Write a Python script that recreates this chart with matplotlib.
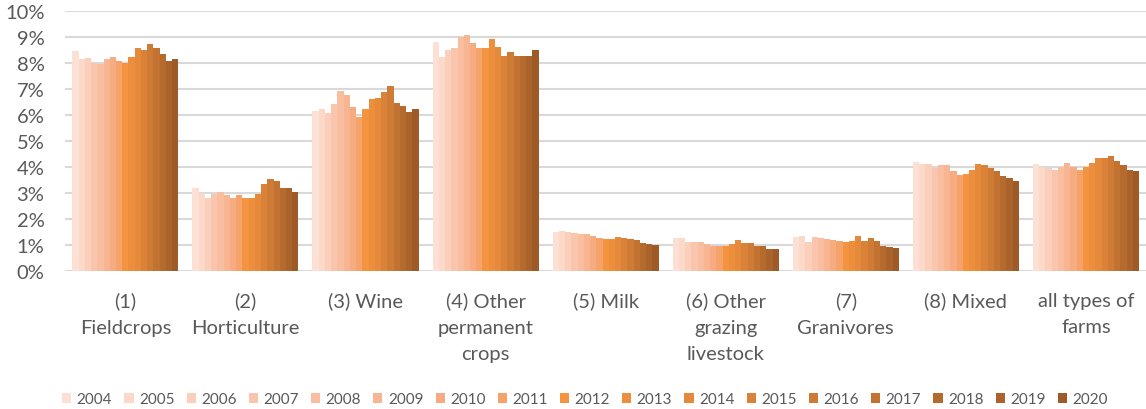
import matplotlib.pyplot as plt
import numpy as np

# Farm types on the x axis
categories = [
    "(1)\nFieldcrops",
    "(2)\nHorticulture",
    "(3) Wine",
    "(4) Other\npermanent\ncrops",
    "(5) Milk",
    "(6) Other\ngrazing\nlivestock",
    "(7)\nGranivores",
    "(8) Mixed",
    "all types of\nfarms",
]
years = list(range(2004, 2021))

# Share per farm type (%), one list per farm type, values for 2004..2020
fieldcrops = [8.48, 8.16, 8.20, 8.01, 7.96, 8.16, 8.25, 8.08, 8.00, 8.25, 8.57, 8.52, 8.74, 8.57, 8.34, 8.08, 8.16]
horticulture = [3.21, 3.00, 2.79, 2.97, 3.05, 2.91, 2.81, 2.91, 2.79, 2.81, 2.96, 3.34, 3.54, 3.48, 3.18, 3.18, 3.05]
wine = [6.16, 6.25, 6.08, 6.43, 6.93, 6.77, 6.30, 5.91, 6.25, 6.62, 6.66, 6.88, 7.13, 6.46, 6.34, 6.11, 6.25]
other_permanent = [8.83, 8.25, 8.52, 8.57, 9.00, 9.10, 8.79, 8.57, 8.57, 8.92, 8.61, 8.29, 8.43, 8.29, 8.29, 8.29, 8.52]
milk = [1.49, 1.53, 1.48, 1.44, 1.43, 1.43, 1.35, 1.27, 1.22, 1.22, 1.30, 1.26, 1.22, 1.18, 1.09, 1.02, 0.99]
other_grazing = [1.26, 1.26, 1.12, 1.12, 1.12, 1.03, 0.96, 0.94, 0.94, 1.02, 1.18, 1.07, 1.07, 0.94, 0.94, 0.86, 0.86]
granivores = [1.32, 1.35, 1.12, 1.30, 1.27, 1.23, 1.20, 1.14, 1.11, 1.16, 1.33, 1.14, 1.25, 1.16, 0.96, 0.93, 0.89]
mixed = [4.18, 4.10, 4.10, 3.95, 4.06, 4.06, 3.83, 3.70, 3.75, 3.88, 4.10, 4.06, 3.96, 3.83, 3.65, 3.56, 3.45]
all_types = [4.10, 4.01, 3.97, 3.89, 4.01, 4.14, 4.01, 3.89, 4.01, 4.14, 4.33, 4.33, 4.41, 4.23, 4.06, 3.88, 3.84]

colors = [
    "#FCE0D4", "#FBD8C8", "#FACFBB", "#F9C6AD", "#F8BE9F", "#F7B591",
    "#F6AC80", "#F5A26B", "#F49440", "#EC8E3C", "#E5893A", "#DA8238",
    "#CE7B35", "#C27231", "#B66B2E", "#AA632A", "#9E5B27",
]

plt.rcParams["font.family"] = ["Lato", "DejaVu Sans"]
text_color = "#595959"

values = np.array([fieldcrops, horticulture, wine, other_permanent, milk,
                   other_grazing, granivores, mixed, all_types])

fig = plt.figure(figsize=(11.46, 4.10), dpi=100)
ax = fig.add_axes([0.057, 0.337, 0.943, 0.633])

x = np.arange(len(categories))
group_width = 0.883
bar_w = group_width / len(years)
for j, year in enumerate(years):
    offs = -group_width / 2 + bar_w * (j + 0.5)
    ax.bar(x + offs, values[:, j], width=bar_w, color=colors[j], label=str(year),
           linewidth=0, zorder=3)

ax.set_xlim(-0.5, len(categories) - 0.5)
ax.set_ylim(0, 10)
ax.set_yticks(np.arange(0, 11, 1))
ax.set_yticklabels([f"{v}%" for v in range(0, 11)])
ax.yaxis.grid(True, color="#D9D9D9", linewidth=1.5, zorder=0)
ax.set_axisbelow(True)
for s in ax.spines.values():
    s.set_visible(False)
ax.tick_params(axis="y", length=0, pad=15, labelsize=14.5, labelcolor=text_color)
ax.tick_params(axis="x", length=0, pad=15, labelsize=14.5, labelcolor=text_color)
ax.set_xticks(x)
ax.set_xticklabels(categories, linespacing=1.65, va="top")

handles, labels = ax.get_legend_handles_labels()
fig.legend(handles, labels, loc="center", bbox_to_anchor=(0.5105, 0.024), ncol=17,
           frameon=False, fontsize=11, labelcolor=text_color,
           handlelength=0.6, handleheight=0.6, handletextpad=0.35,
           columnspacing=0.8)

fig.savefig("out.png", dpi=100)
